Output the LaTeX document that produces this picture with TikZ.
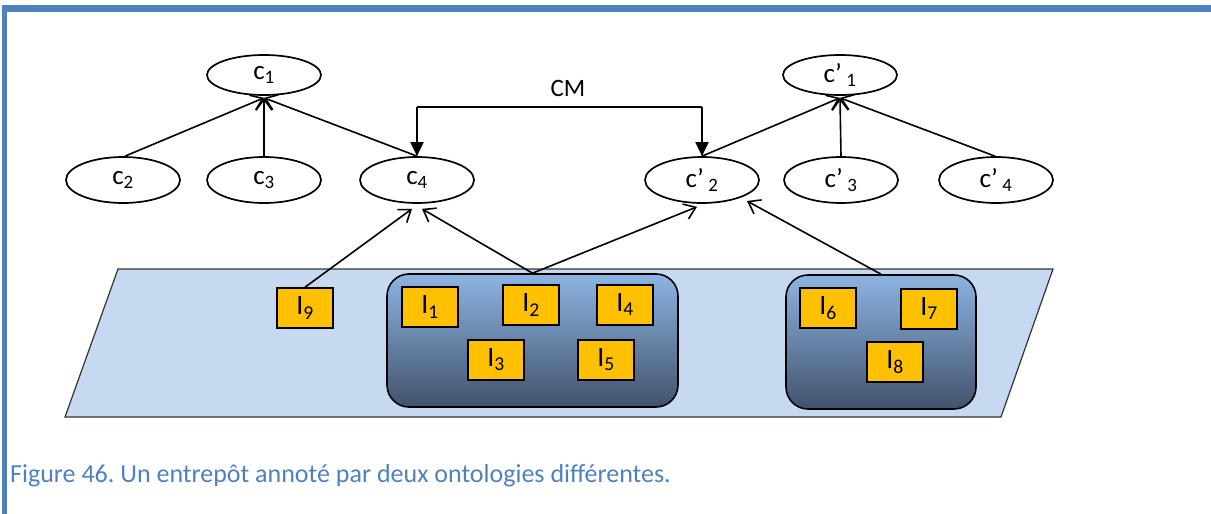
\documentclass[tikz,border=0pt]{standalone}
\usepackage{fontspec}
\setmainfont{Carlito}
\usetikzlibrary{shapes.geometric,arrows.meta,calc}
\definecolor{framebl}{RGB}{79,129,189}
\definecolor{paral}{RGB}{198,217,241}
\definecolor{gtop}{RGB}{141,180,226}
\definecolor{gbot}{RGB}{66,82,108}
\definecolor{inst}{RGB}{255,192,0}
\tikzset{
  concept/.style={draw=black,line width=1.7pt,ellipse,inner sep=0pt,minimum width=114pt,minimum height=46pt,font=\fontsize{27}{29}\selectfont},
  instbox/.style={draw=black,line width=1.6pt,fill=inst,inner sep=0pt,minimum width=56pt,minimum height=40pt,font=\fontsize{28}{30}\selectfont},
  grp/.style={draw=black,line width=1.6pt,rounded corners=22pt,top color=gtop,bottom color=gbot,inner sep=0pt},
  isa/.style={line width=1.6pt,-{Straight Barb[length=11pt,width=16pt,line width=1.6pt]}},
  cmarrow/.style={line width=1.9pt,-{Triangle[length=14pt,width=13pt]}}
}
\newcommand{\sbs}[1]{\textsubscript{#1}}
\frenchspacing
\begin{document}
\begin{tikzpicture}[x=1pt,y=-1pt]
\useasboundingbox (0,0) rectangle (1211,514);
% frame
\fill[framebl] (2,5) rectangle (1211,12);
\fill[framebl] (2,5) rectangle (7,514);
% parallelogram
\draw[fill=paral,draw=black!80,line width=1.2pt] (118,269) -- (1053,269) -- (1001,417) -- (65,417) -- cycle;
% groups
\node[grp,minimum width=291pt,minimum height=133pt] (g1) at (532.5,340.5) {};
\node[grp,minimum width=190pt,minimum height=134pt] (g2) at (881,342) {};
% instances
\node[instbox] (i9) at (305,308) {I\sbs{9}};
\node[instbox] (i1) at (430,307) {I\sbs{1}};
\node[instbox] (i2) at (531,305) {I\sbs{2}};
\node[instbox] (i4) at (625,305) {I\sbs{4}};
\node[instbox] (i3) at (496,360) {I\sbs{3}};
\node[instbox] (i5) at (606,360) {I\sbs{5}};
\node[instbox] (i6) at (828,308) {I\sbs{6}};
\node[instbox] (i7) at (929,309) {I\sbs{7}};
\node[instbox] (i8) at (895,362) {I\sbs{8}};
% concepts
\node[concept,minimum height=40pt] (c1) at (264,75) {c\sbs{1}};
\node[concept] (c2) at (123,180) {c\sbs{2}};
\node[concept] (c3) at (264,180) {c\sbs{3}};
\node[concept] (c4) at (417,180) {c\sbs{4}};
\node[concept,minimum height=40pt] (d1) at (840,75) {c’\,\sbs{1}};
\node[concept] (d2) at (702,180) {c’\,\sbs{2}};
\node[concept] (d3) at (841,180) {c’\,\sbs{3}};
\node[concept] (d4) at (996,180) {c’\,\sbs{4}};
% is-a edges
\draw[isa] ($(c2.north)+(2,0)$) -- ($(c1.south)+(0,2)$);
\draw[isa] (c3.north) -- ($(c1.south)+(0,2)$);
\draw[isa] (c4.north) -- ($(c1.south)+(0,2)$);
\draw[isa] (d2.north) -- ($(d1.south)+(0,2)$);
\draw[isa] (d3.north) -- ($(d1.south)+(0,2)$);
\draw[isa] ($(d4.north)+(-1,0)$) -- ($(d1.south)+(0,2)$);
% instance edges
\draw[isa] (i9.north) -- ($(c4.south)+(-5,5)$);
\draw[isa] (g1.north) -- ($(c4.south)+(5,5)$);
\draw[isa] (g1.north) -- ($(d2.south)+(-5,3)$);
\draw[isa] (g2.north) -- ($(d2.center)+(45,21)$);
% CM mapping
\coordinate (cml) at ($(c4.north)+(0,-49)$);
\coordinate (cmr) at ($(d2.north)+(0,-49)$);
\draw[line width=1.9pt] (cml) -- (cmr);
\draw[cmarrow] (cml) -- (c4.north);
\draw[cmarrow] (cmr) -- (d2.north);
\node[font=\fontsize{25}{27}\selectfont,anchor=base] (cmlab) at (568,96) {CM};
% caption
\node[anchor=base west,inner sep=0pt,text=framebl,font=\fontsize{26}{28}\selectfont] (cap) at (10,482) {Figure 46. Un entrepôt annoté par deux ontologies différentes.};
\end{tikzpicture}
\end{document}
